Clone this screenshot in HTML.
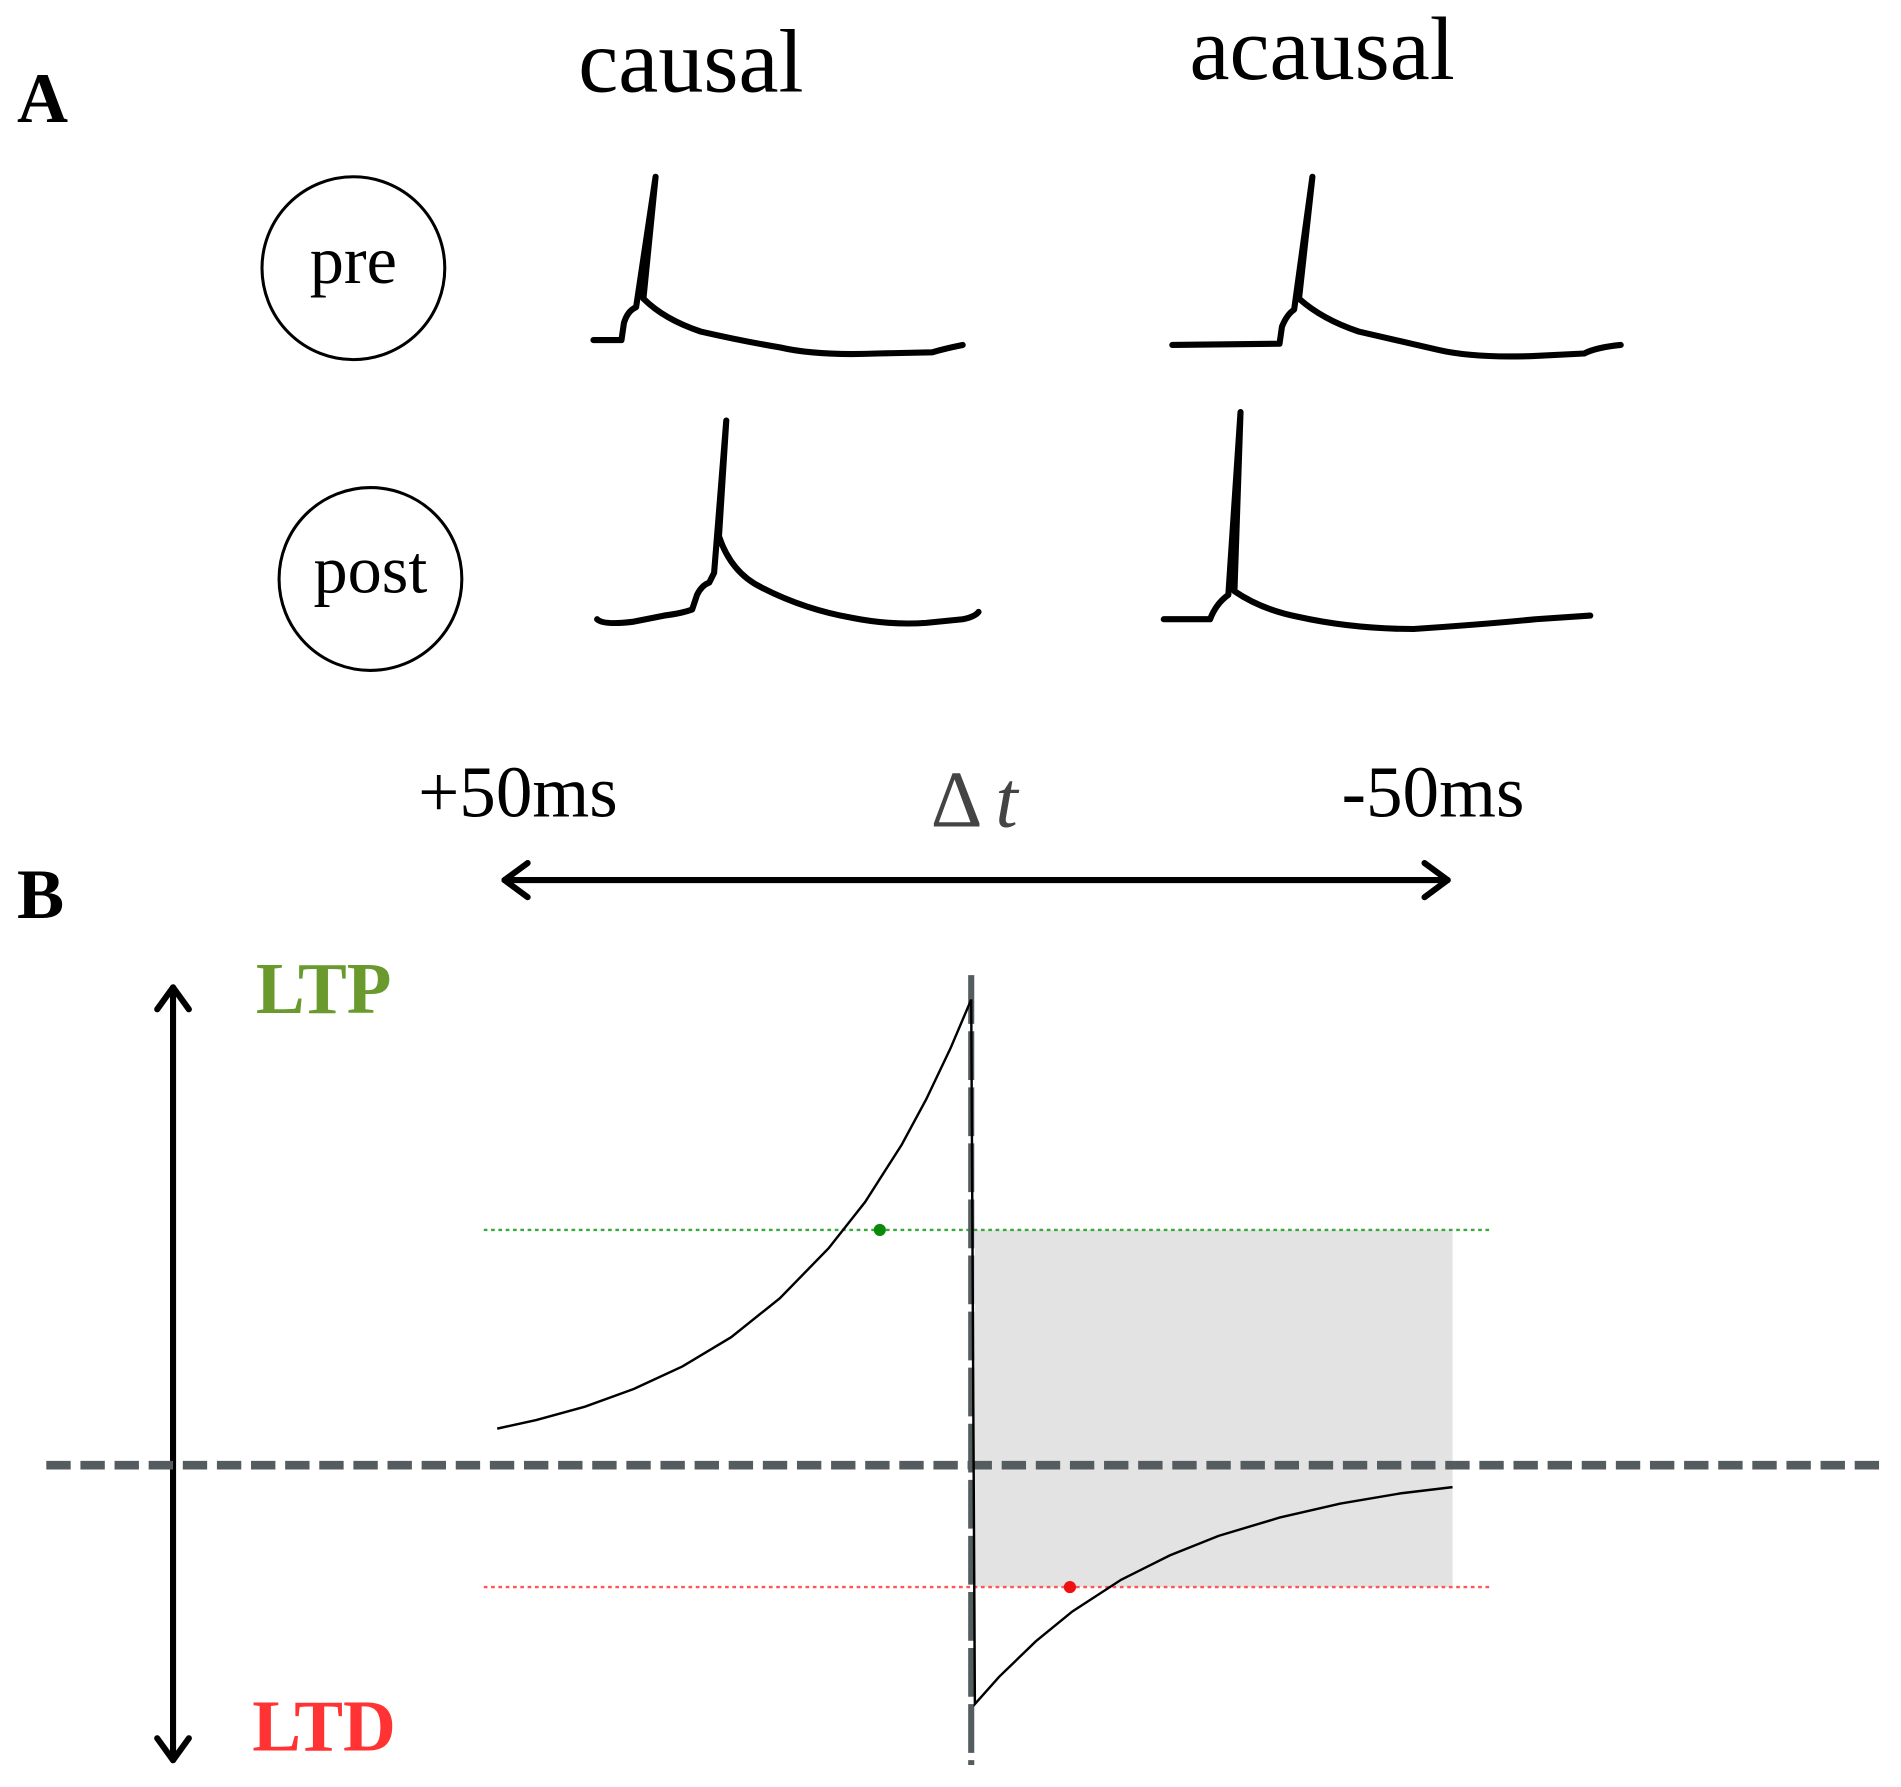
<!DOCTYPE html>
<html><head><meta charset="utf-8"><style>
html,body{margin:0;padding:0;background:#fff;}
svg{display:block;}
text{font-family:"Liberation Serif",serif;}
</style></head><body>
<svg width="1901" height="1787" viewBox="0 0 1560 1466" preserveAspectRatio="none" xmlns="http://www.w3.org/2000/svg">
<rect width="1560" height="1466" fill="#fff"/>
<!-- Panel A -->
<text x="14" y="100" font-size="58" font-weight="bold">A</text>
<text x="567" y="75" font-size="74" text-anchor="middle">causal</text>
<text x="1085" y="65" font-size="74" text-anchor="middle">acausal</text>
<circle cx="290" cy="220" r="75" fill="none" stroke="#000" stroke-width="2.5"/>
<text x="290" y="232" font-size="56" text-anchor="middle">pre</text>
<circle cx="304" cy="475" r="75" fill="none" stroke="#000" stroke-width="2.5"/>
<text x="304" y="486" font-size="56" text-anchor="middle">post</text>
<g fill="none" stroke="#000" stroke-width="5" stroke-linejoin="round" stroke-linecap="round">
<path d="M487,279 L510,279 L512,265 Q515,255 522,252 L538,145 L528,245 Q545,262 575,272 Q610,280 640,285 Q670,292 720,290 L765,289 Q775,286 790,283"/>
<path d="M962,283 L1050,282 L1052,268 Q1056,258 1062,254 L1077,145 L1066,245 Q1085,262 1115,272 Q1150,280 1180,287 Q1210,294 1260,292 L1300,290 Q1310,285 1330,283"/>
<path d="M490,508 Q495,513 520,510 L545,505 Q560,503 568,500 L572,488 Q576,480 582,478 L586,470 L596,345 L590,440 Q600,470 625,482 Q660,500 700,507 Q730,513 760,511 L790,508 Q800,506 803,502"/>
<path d="M955,508 L993,508 Q998,495 1008,488 L1018,338 L1013,485 Q1035,500 1065,506 Q1110,516 1160,516 Q1220,512 1260,508 L1305,505"/>
</g>
<!-- Delta t axis -->
<text x="425" y="670" font-size="60" text-anchor="middle">+50ms</text>
<text x="1176" y="670" font-size="60" text-anchor="middle">-50ms</text>
<text x="785" y="678" font-size="66" fill="#444" text-anchor="middle">Δ</text>
<text x="826" y="678" font-size="66" fill="#444" font-style="italic" text-anchor="middle">t</text>
<g fill="none" stroke="#000" stroke-width="5" stroke-linecap="round" stroke-linejoin="round">
<line x1="414" y1="722" x2="1188" y2="722"/>
<path d="M433,708 L414,722 L433,736"/>
<path d="M1169,708 L1188,722 L1169,736"/>
</g>
<!-- Panel B -->
<text x="14" y="753" font-size="58" font-weight="bold">B</text>
<g fill="none" stroke="#000" stroke-width="5" stroke-linecap="round" stroke-linejoin="round">
<line x1="142" y1="810" x2="142" y2="1444"/>
<path d="M129,828 L142,810 L155,828"/>
<path d="M129,1426 L142,1444 L155,1426"/>
</g>
<text x="210" y="831" font-size="60" font-weight="bold" fill="#6a9a2e">LTP</text>
<text x="207" y="1436" font-size="60" font-weight="bold" fill="#ff3333">LTD</text>
<rect x="800" y="1009" width="392" height="293" fill="#e3e3e3"/>
<line x1="397" y1="1009" x2="1222" y2="1009" stroke="#3aa83a" stroke-width="2" stroke-dasharray="3,3"/>
<line x1="397" y1="1302" x2="1222" y2="1302" stroke="#ff5555" stroke-width="2" stroke-dasharray="3,3"/>
<line x1="38" y1="1202" x2="1550" y2="1202" stroke="#555c60" stroke-width="7" stroke-dasharray="20,8"/>
<line x1="797" y1="800" x2="797" y2="1448" stroke="#555c60" stroke-width="5" stroke-dasharray="40,6"/>
<polyline fill="none" stroke="#000" stroke-width="2" points="408,1172 440,1165 480,1154 520,1139.5 560,1121 600,1097 640,1065 680,1024 710,986 740,939 760,902 780,860 797,820 800,1398 820,1375.5 850,1346.5 880,1322 920,1296 960,1276 1000,1260 1050,1245 1100,1233.5 1150,1225 1192,1220"/>
<circle cx="722" cy="1009" r="5" fill="#0a8a0a"/>
<circle cx="878" cy="1302" r="5" fill="#ee1111"/>
</svg>
</body></html>
